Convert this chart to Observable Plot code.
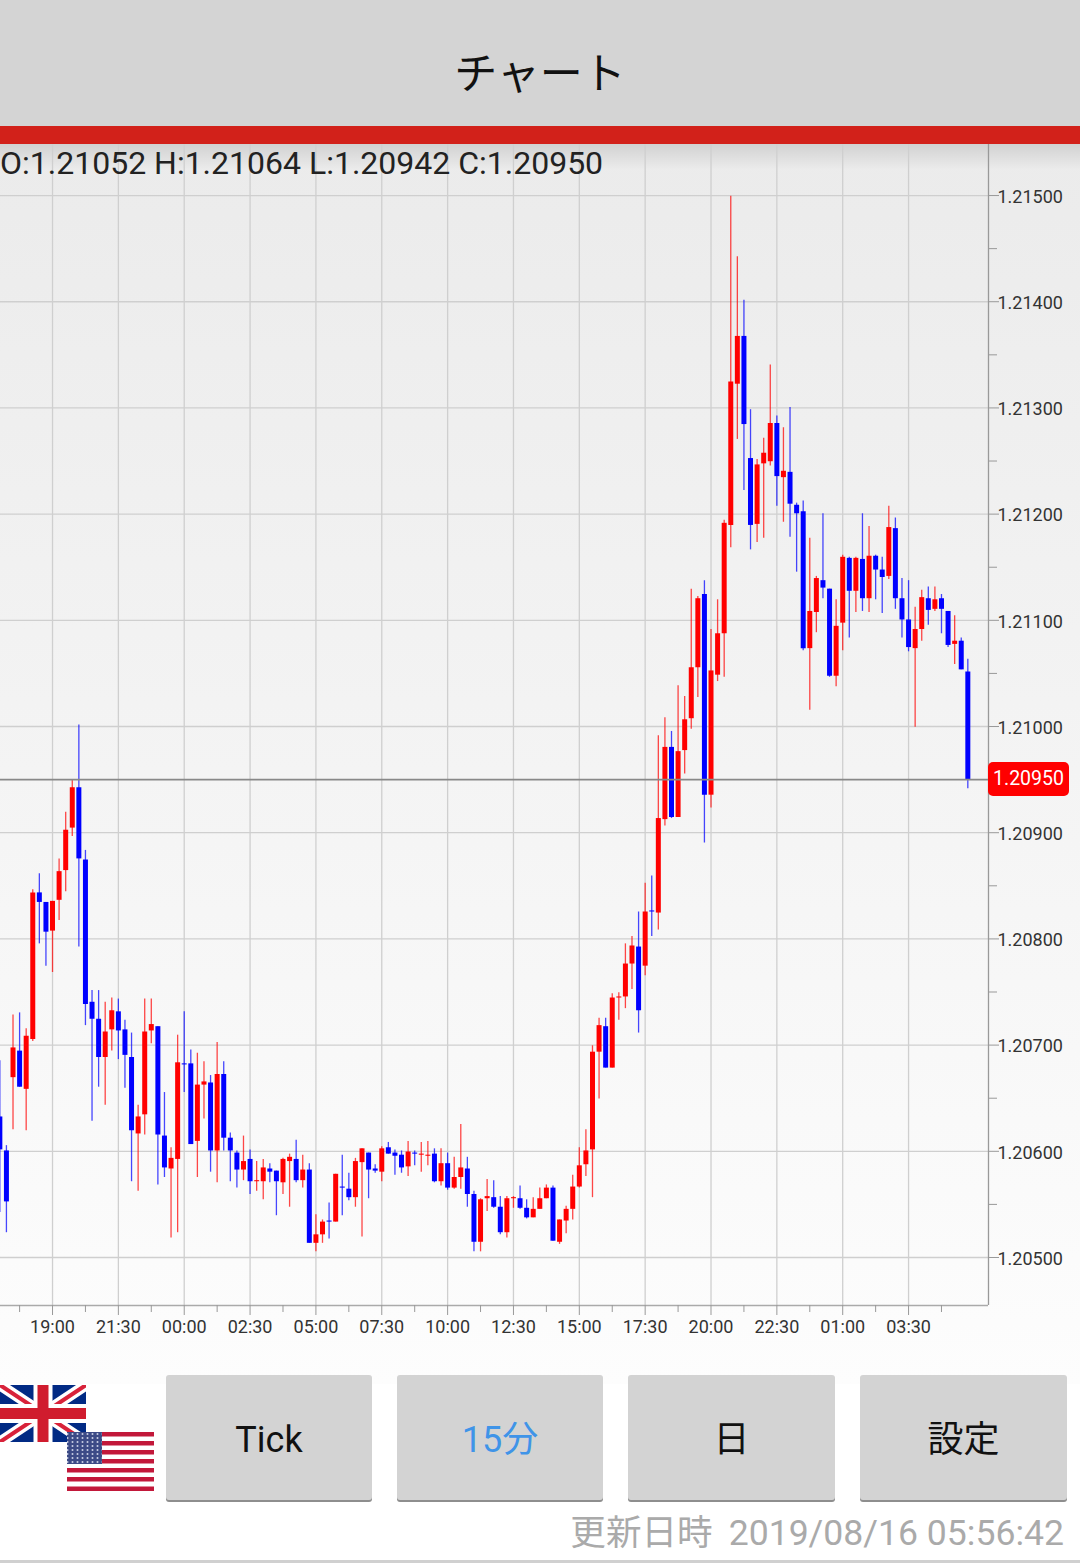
<!DOCTYPE html>
<html lang="ja">
<head>
<meta charset="utf-8">
<script src="https://cdn.jsdelivr.net/npm/d3@7"></script>
<script src="https://cdn.jsdelivr.net/npm/@observablehq/plot@0.6"></script>
<style>
html,body{margin:0;padding:0;width:1080px;height:1563px;overflow:hidden;background:#fff;font-family:Roboto,"Noto Sans CJK JP",sans-serif}
#page{position:relative;width:1080px;height:1563px;overflow:hidden}
#bg{position:absolute;left:0;top:144px;width:1080px;height:1240px;background:linear-gradient(#ebebeb 0,#f3f3f3 45%,#fbfbfb 90%,#fdfdfd 100%)}
#shade{position:absolute;left:0;top:144px;width:1080px;height:26px;background:linear-gradient(rgba(0,0,0,.11),rgba(0,0,0,0))}
#head{position:absolute;left:0;top:0;width:1080px;height:126px;background:#d4d4d4;text-align:center;font:400 43px/140px "Noto Sans CJK JP";color:#111}
#bar{position:absolute;left:0;top:126px;width:1080px;height:18px;background:#d2211a}
#chart{position:absolute;left:0;top:143px}
#ohlc{position:absolute;left:0;top:143px;font:400 32px/40px Roboto;color:#222;white-space:nowrap}
#last{position:absolute;left:988px;width:81px;height:34px;background:#ff0000;border-radius:5px;color:#fff;text-align:center;font:400 19.5px/34px Roboto}
.btn{position:absolute;top:1375px;height:125px;background:#d3d3d3;border-radius:3px;box-shadow:0 2px 0 #8e8e8e;text-align:center;font:400 36px/130px Roboto,"Noto Sans CJK JP";color:#111}
#stamp{position:absolute;right:16px;top:1509px;font:400 35.6px/48px Roboto,"Noto Sans CJK JP";color:#aaa;white-space:nowrap}
#stamp span{margin-left:16px}
#foot{position:absolute;left:0;top:1560px;width:1080px;height:3px;background:#d0d0d0}
#flags{position:absolute;left:0;top:1380px}
</style>
</head>
<body>
<div id="page">
  <div id="head">チャート</div>
  <div id="bg"></div>
  <div id="shade"></div>
  <div id="chart"></div>
  <div id="bar"></div>
  <div id="ohlc"></div>
  <div id="last"></div>
  <svg id="flags" width="160" height="115" viewBox="0 0 160 115">
    <defs>
      <pattern id="stars" width="5" height="4" patternUnits="userSpaceOnUse"><rect width="5" height="4" fill="#3c4a86"/><circle cx="2.5" cy="2" r="1" fill="#c9cfe4"/></pattern>
      <clipPath id="uk"><rect x="0" y="5" width="86" height="57"/></clipPath>
    </defs>
    <g clip-path="url(#uk)">
      <rect x="0" y="5" width="86" height="57" fill="#012a84"/>
      <path d="M0 5L86 62M86 5L0 62" stroke="#fff" stroke-width="11"/>
      <path d="M0 5L86 62M86 5L0 62" stroke="#d8223a" stroke-width="4"/>
      <path d="M43 5V62M0 33.5H86" stroke="#fff" stroke-width="19"/>
      <path d="M43 5V62M0 33.5H86" stroke="#d01c2e" stroke-width="11"/>
    </g>
    <rect x="67" y="52" width="87" height="59" fill="#fff"/>
    <g fill="#c2183a">
      <rect x="67" y="52" width="87" height="4.5"/><rect x="67" y="61" width="87" height="4.5"/><rect x="67" y="70" width="87" height="4.5"/><rect x="67" y="79" width="87" height="4.5"/><rect x="67" y="88" width="87" height="4.5"/><rect x="67" y="97" width="87" height="4.5"/><rect x="67" y="106.500" width="87" height="4.5"/>
    </g>
    <rect x="67" y="52" width="35" height="32" fill="url(#stars)"/>
  </svg>
  <div class="btn" style="left:166px;width:206px">Tick</div>
  <div class="btn" style="left:397px;width:206px;color:#3f94e8">15分</div>
  <div class="btn" style="left:628px;width:207px">日</div>
  <div class="btn" style="left:860px;width:207px">設定</div>
  <div id="stamp">更新日時<span>2019/08/16 05:56:42</span></div>
  <div id="foot"></div>
</div>
<script>
// Prices in points above 1.20000 (0.00001 units), 15-minute candles starting 8 bars before 19:00
const highs = [686,606,729,731,716,847,862,835,
  836,876,920,950,1002,884,752,752,741,745,
  744,724,712,644,744,744,718,656,604,710,
  732,696,693,685,672,703,685,618,601,615,
  602,591,593,589,582,594,598,611,597,589,
  541,536,552,579,597,580,594,603,599,588,
  605,609,602,601,610,601,609,610,603,603,
  599,595,626,595,563,556,574,573,558,558,
  558,568,555,557,566,569,568,536,549,578,
  604,621,700,726,726,749,750,796,803,826,
  853,860,992,1009,996,1039,1029,1130,1123,1138,
  1092,1120,1195,1500,1443,1402,1299,1252,1272,1341,
  1293,1282,1301,1211,1213,1178,1142,1201,1130,1120,
  1162,1160,1160,1201,1189,1162,1160,1208,1197,1140,
  1138,1113,1129,1132,1132,1125,1109,1105,1084,1064];
const opens = [633,601,670,695,659,706,844,835,
  808,837,865,905,943,875,741,725,689,715,
  732,715,689,617,635,714,718,615,584,593,
  683,683,610,663,665,601,673,613,599,583,
  593,572,572,584,582,571,591,593,573,583,
  514,522,535,534,567,565,557,590,599,584,
  581,604,599,597,586,599,597,596,598,572,
  589,566,576,584,560,515,556,557,548,524,
  556,556,547,538,546,556,566,515,535,546,
  567,588,602,694,718,679,745,746,777,793,
  775,827,825,913,981,915,978,1008,1056,1125,
  936,1049,1088,1190,1323,1368,1253,1191,1248,1250,
  1286,1235,1240,1209,1203,1074,1108,1138,1130,1048,
  1098,1159,1128,1158,1121,1161,1148,1142,1187,1121,
  1101,1074,1092,1121,1111,1121,1109,1078,1081,1052];
const closes = [602,553,698,661,709,844,835,807,
  836,864,903,943,876,739,725,689,713,733,
  714,691,620,633,713,720,616,585,594,684,
  682,607,663,666,601,673,613,601,583,591,
  572,573,585,581,572,593,595,573,583,514,
  522,534,534,579,566,557,591,603,583,582,
  603,598,596,585,600,598,598,597,572,589,
  566,576,585,560,515,555,558,548,524,556,
  557,547,538,546,556,566,516,536,546,567,
  587,601,694,719,679,745,746,777,794,733,
  826,826,914,981,915,977,1007,1056,1121,936,
  1053,1088,1192,1325,1368,1285,1190,1247,1258,1286,
  1236,1241,1210,1201,1074,1109,1140,1131,1048,1095,
  1160,1128,1159,1121,1161,1148,1141,1188,1121,1101,
  1075,1092,1122,1110,1120,1111,1077,1081,1054,950];
const lows = [543,524,621,661,620,704,796,775,
  769,818,845,897,793,719,629,661,644,695,
  687,660,572,563,616,702,569,576,519,524,
  656,607,576,631,581,571,601,572,566,573,
  560,563,555,571,540,560,548,571,566,514,
  506,514,518,534,540,554,548,520,556,580,
  572,598,578,580,577,587,581,587,571,568,
  564,565,565,548,506,506,544,547,522,519,
  547,546,537,538,546,556,516,513,523,536,
  566,577,557,650,679,679,724,735,753,712,
  766,803,809,907,914,915,956,998,1028,891,
  924,1043,1047,1169,1271,1223,1167,1174,1178,1246,
  1208,1193,1179,1146,1072,1016,1089,1121,1047,1038,
  1072,1084,1108,1109,1108,1120,1107,1139,1111,1084,
  1071,1000,1081,1096,1109,1088,1075,1059,1054,942];

const firstIndex = -8;
const startTime = Date.UTC(2019, 7, 14, 19, 0);
const barMs = 15 * 60 * 1000;
const timeAt = i => new Date(startTime + i * barMs);
const price = p => 1.2 + p / 100000;

const candles = highs.map((h, k) => ({
  t: timeAt(k + firstIndex),
  high: price(h), low: price(lows[k]),
  open: price(opens[k]), close: price(closes[k]),
  color: closes[k] >= opens[k] ? "#ff0000" : "#0000ff"
}));

const majorBars = [0,10,20,30,40,50,60,70,80,90,100,110,120,130];
const minorBars = [-5,5,15,25,35,45,55,65,75,85,95,105,115,125,135];
const priceTicks = [1.205,1.206,1.207,1.208,1.209,1.21,1.211,1.212,1.213,1.214,1.215];
const priceMinor = [1.2055,1.2065,1.2075,1.2085,1.2095,1.2105,1.2115,1.2125,1.2135,1.2145];
const priceDomain = [1.204548, 1.21549];
const timeDomain = [timeAt(-7.9), timeAt(142.14)];

const lastCandle = candles[candles.length - 1];

const chart = Plot.plot({
  width: 1080, height: 1221,
  marginLeft: 0, marginRight: 92, marginTop: 0, marginBottom: 59,
  style: {background: "transparent", fontFamily: "Roboto", overflow: "visible"},
  x: {type: "utc", domain: timeDomain, label: null},
  y: {domain: priceDomain, label: null},
  marks: [
    Plot.gridY({ticks: priceTicks, stroke: "#cfcfcf", strokeOpacity: 1, strokeWidth: 1.3}),
    Plot.gridX({ticks: majorBars.map(timeAt), stroke: "#cfcfcf", strokeOpacity: 1, strokeWidth: 1.3}),
    Plot.ruleX(candles, {x: "t", y1: "low", y2: "high", stroke: "color", strokeWidth: 1.3, strokeOpacity: .72, dy: 0.7}),
    Plot.ruleX(candles, {x: "t", y1: "open", y2: "close", stroke: "color", strokeWidth: 5, dy: 0.7}),
    Plot.ruleY([lastCandle.close], {stroke: "#888", strokeWidth: 1.7}),
    Plot.ruleX([timeDomain[1]], {stroke: "#999", strokeWidth: 1.3}),
    Plot.ruleY([priceDomain[0]], {stroke: "#aaa", strokeWidth: 1.5}),
    Plot.axisY({anchor: "right", ticks: priceTicks, tickSize: 10, tickFormat: () => "", stroke: "#999", label: null}),
    Plot.axisY({anchor: "right", ticks: priceTicks, tickSize: 0, tickPadding: 9, dy: 1.5, tickFormat: d => d.toFixed(5), fill: "#333", fontSize: 18, label: null}),
    Plot.axisY({anchor: "right", ticks: priceMinor, tickSize: 8, tickFormat: () => "", stroke: "#999", label: null}),
    Plot.axisX({ticks: majorBars.map(timeAt), tickSize: 10, tickPadding: 4.5, tickFormat: d3.utcFormat("%H:%M"), fill: "#333", stroke: "#999", fontSize: 18, label: null}),
    Plot.axisX({ticks: minorBars.map(timeAt), tickSize: 7, tickFormat: () => "", stroke: "#999", label: null})
  ]
});
document.getElementById("chart").append(chart);

const fmt = p => price(p).toFixed(5);
const n = highs.length - 1;
document.getElementById("ohlc").textContent =
  `O:${fmt(opens[n])} H:${fmt(highs[n])} L:${fmt(lows[n])} C:${fmt(closes[n])}`;
const tag = document.getElementById("last");
tag.textContent = fmt(closes[n]);
tag.style.top = (143 + chart.scale("y").apply(lastCandle.close) - 17) + "px";
</script>
</body>
</html>
